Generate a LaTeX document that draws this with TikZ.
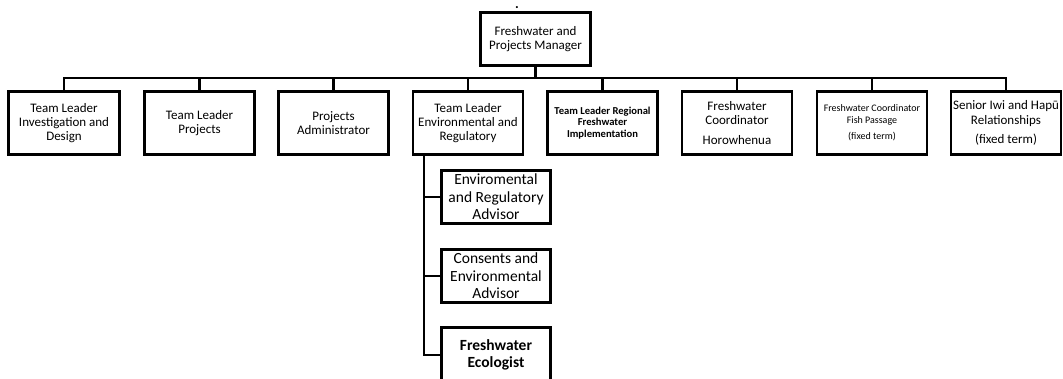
\documentclass[tikz,border=0pt]{standalone}
\usepackage{fontspec}
\setmainfont{Carlito}
\begin{document}
\begin{tikzpicture}[x=1pt,y=-1pt,
  box/.style={draw,line width=2.6pt,rectangle,align=center,inner sep=1pt,
    minimum width=110pt,minimum height=63.5pt,font=\fontsize{13}{14.3}\selectfont},
  topbox/.style={box,minimum height=53.5pt},
  subbox/.style={box,minimum width=109.5pt,minimum height=53.5pt,font=\fontsize{15.5}{17.5}\selectfont},
  conn/.style={line width=2.8pt}]
\useasboundingbox (0,0) rectangle (1063,378);
\node[font=\fontsize{14}{16}\selectfont\bfseries,anchor=base,inner sep=0pt] (dot) at (517,8.5) {.};
\node[topbox] (top) at (535.5,39) {Freshwater and\\Projects Manager};
\node[box,minimum width=111.5pt] (b1) at (64,123) {Team Leader\\Investigation and\\Design};
\node[box] (b2) at (199.5,123) {Team Leader\\Projects};
\node[box] (b3) at (333.5,123) {Projects\\Administrator};
\node[box] (b4) at (468,123) {Team Leader\\Environmental and\\Regulatory};
\node[box,font=\fontsize{10.6}{11.3}\selectfont\bfseries] (b5) at (602.5,123) {Team Leader Regional\\Freshwater\\Implementation};
\node[box] (b6) at (737,123) {Freshwater\\Coordinator\\[5pt]Horowhenua};
\node[box,font=\fontsize{10}{12}\selectfont] (b7) at (872,123) {Freshwater Coordinator\\Fish Passage\\[4pt](fixed term)};
\node[box] (b8) at (1006,123) {Senior Iwi and Hapū\\Relationships\\[5pt](fixed term)};
\node[subbox] (sA) at (496,197) {Enviromental\\and Regulatory\\Advisor};
\node[subbox] (sB) at (496,276) {Consents and\\Environmental\\Advisor};
\node[subbox,minimum height=55pt,font=\fontsize{15.5}{17.5}\selectfont\bfseries] (sC) at (496,355) {Freshwater\\Ecologist};
\coordinate (bar) at (535.5,78);
\draw[conn] (top.south) -- (bar);
\foreach \n in {b1,b2,b3,b4,b5,b6,b7,b8}{\draw[conn] (\n.north) |- (bar);}
\coordinate (trunk) at (424,156);
\draw[conn] (trunk) |- (sC.west);
\draw[conn] (trunk |- sA.west) -- (sA.west);
\draw[conn] (trunk |- sB.west) -- (sB.west);
\end{tikzpicture}
\end{document}
